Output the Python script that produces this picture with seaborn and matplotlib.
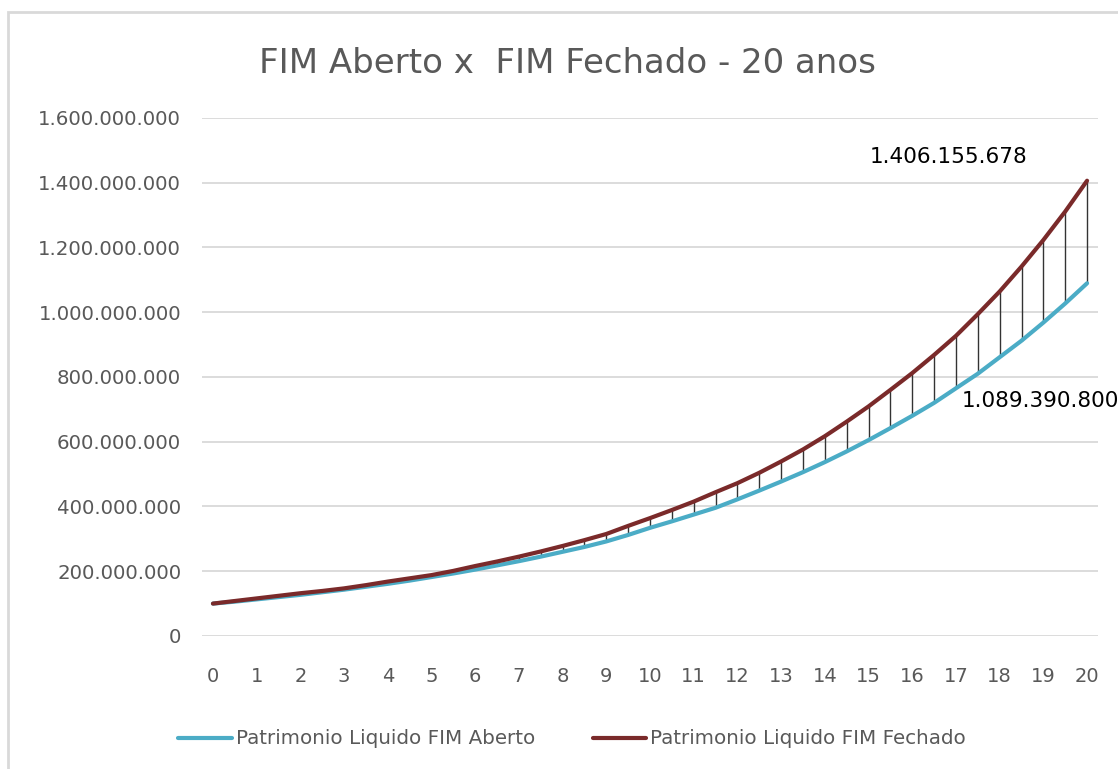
import numpy as np
import pandas as pd
import seaborn as sns
import matplotlib.pyplot as plt
from matplotlib.patches import Rectangle
from matplotlib.ticker import FuncFormatter

sns.set_style('white')
plt.rcParams['font.family'] = ['DejaVu Sans']

# anos (semestres) de 0 a 20
anos = [0, 0.5, 1, 1.5, 2, 2.5, 3, 3.5, 4, 4.5, 5, 5.5, 6, 6.5, 7, 7.5, 8, 8.5, 9, 9.5, 10,
        10.5, 11, 11.5, 12, 12.5, 13, 13.5, 14, 14.5, 15, 15.5, 16, 16.5, 17, 17.5, 18,
        18.5, 19, 19.5, 20]

# patrimonio liquido (milhoes)
pl_aberto = [100, 106, 113, 120, 127, 135, 143, 152, 161, 171, 182, 193, 205, 218, 231,
             245, 260, 275, 292, 312, 334, 354, 375, 396, 422, 449, 477, 506, 537, 570,
             605, 642, 680, 720, 765, 810, 861, 912, 968, 1027, 1089.3908]
pl_fechado = [100, 108, 116, 124, 132, 139, 147, 157, 168, 178, 188, 201, 216, 230, 245,
              261, 278, 296, 315, 340, 364, 389, 415, 444, 472, 504, 539, 576, 617, 662,
              709, 760, 812, 868, 927, 994, 1064, 1141, 1223, 1311, 1406.155678]

nome_aberto = 'Patrimonio Liquido FIM Aberto'
nome_fechado = 'Patrimonio Liquido FIM Fechado'

df = pd.DataFrame({'ano': anos,
                   'aberto': np.array(pl_aberto) * 1e6,
                   'fechado': np.array(pl_fechado) * 1e6})

cor_aberto = '#4bacc6'
cor_fechado = '#7a2a2a'
cinza = '#595959'

fig = plt.figure(figsize=(11.18, 7.69), dpi=100)
ax = fig.add_axes([0.1807, 0.1730, 0.8014, 0.6736])

# linhas de queda entre as duas series
ax.vlines(df['ano'], df['aberto'], df['fechado'], color='#333333', lw=1.0, zorder=2)

sns.lineplot(x='ano', y='aberto', data=df, color=cor_aberto, lw=3.4, label=nome_aberto,
             ax=ax, zorder=3)
sns.lineplot(x='ano', y='fechado', data=df, color=cor_fechado, lw=3.6, label=nome_fechado,
             ax=ax, zorder=4)

ax.set_xlim(-0.25, 20.25)
ax.set_ylim(0, 1.6e9)
ax.set_xticks(range(0, 21))
ax.set_yticks(np.arange(0, 1.6e9 + 1, 2e8))
ax.yaxis.set_major_formatter(FuncFormatter(lambda v, p: f'{v:,.0f}'.replace(',', '.')))
ax.grid(axis='y', color='#d9d9d9', lw=1.3)
ax.grid(axis='x', visible=False)
for s in ax.spines.values():
    s.set_visible(False)
ax.tick_params(axis='y', length=0, pad=15, labelsize=14.2, labelcolor=cinza)
ax.tick_params(axis='x', length=0, pad=22, labelsize=14, labelcolor=cinza)
ax.set_xlabel('')
ax.set_ylabel('')

# rotulos de dados no fim das series
ult = df.iloc[-1]
ax.annotate(f"{ult['fechado']:,.0f}".replace(',', '.'), xy=(ult['ano'], ult['fechado']),
            xytext=(-100, 17), textcoords='offset points', ha='center', va='center',
            fontsize=15.5, color='black', annotation_clip=False)
ax.annotate(f"{ult['aberto']:,.0f}".replace(',', '.'), xy=(ult['ano'], ult['aberto']),
            xytext=(-90, -85), textcoords='offset points', ha='left', va='center',
            fontsize=15.5, color='black', annotation_clip=False)

fig.text(567 / 1118, 1 - 73 / 769, 'FIM Aberto x  FIM Fechado - 20 anos', ha='center',
         va='baseline', fontsize=24.5, color=cinza)

ax.get_legend().remove()
h, l = ax.get_legend_handles_labels()
for hh in h:
    hh.set_linewidth(3)
fig.legend(h, l, loc='center', bbox_to_anchor=(572 / 1118, 1 - 739 / 769), ncol=2,
           frameon=False, fontsize=14.3, labelcolor=cinza, handlelength=2.7,
           handletextpad=0.2, columnspacing=2.9)

# moldura da area do grafico
fig.patches.append(Rectangle((8 / 1118, -0.05), 1.1, 1 - 12 / 769 + 0.05,
                             transform=fig.transFigure, fill=False, ec='#d9d9d9', lw=2))

plt.savefig('out.png', dpi=100)
